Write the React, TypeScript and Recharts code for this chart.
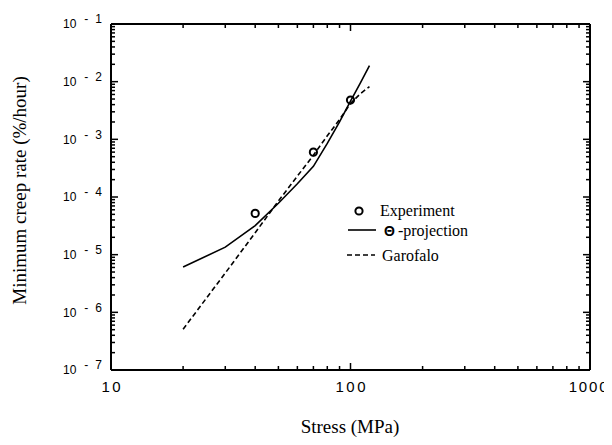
import React from 'react';
import { ComposedChart, Line, Scatter, XAxis, YAxis, Legend, Label } from 'recharts';

// Experiment points
const stressExperiment = [40, 70, 100];
const rateExperiment = [5.2e-5, 6.0e-4, 4.8e-3];

// Theta-projection curve (solid)
const stressTheta = [20, 30, 40, 50, 60, 70, 80, 90, 100, 110, 120];
const rateTheta = [6.1e-6, 1.35e-5, 3.2e-5, 7.8e-5, 1.7e-4, 3.4e-4, 8.5e-4, 2.0e-3, 4.6e-3, 9.5e-3, 1.9e-2];

// Garofalo curve (dashed)
const stressGarofalo = [20, 30, 40, 50, 60, 70, 80, 90, 100, 110, 120];
const rateGarofalo = [5.1e-7, 4.8e-6, 2.4e-5, 8.5e-5, 2.3e-4, 5.3e-4, 1.15e-3, 2.2e-3, 4.2e-3, 6.2e-3, 8.2e-3];

// Axis ticks
const xTicks = [10, 20, 30, 40, 50, 60, 70, 80, 90, 100, 200, 300, 400, 500, 600, 700, 800, 900, 1000];
const yTicks = [
  1e-7, 2e-7, 3e-7, 4e-7, 5e-7, 6e-7, 7e-7, 8e-7, 9e-7,
  1e-6, 2e-6, 3e-6, 4e-6, 5e-6, 6e-6, 7e-6, 8e-6, 9e-6,
  1e-5, 2e-5, 3e-5, 4e-5, 5e-5, 6e-5, 7e-5, 8e-5, 9e-5,
  1e-4, 2e-4, 3e-4, 4e-4, 5e-4, 6e-4, 7e-4, 8e-4, 9e-4,
  1e-3, 2e-3, 3e-3, 4e-3, 5e-3, 6e-3, 7e-3, 8e-3, 9e-3,
  1e-2, 2e-2, 3e-2, 4e-2, 5e-2, 6e-2, 7e-2, 8e-2, 9e-2,
  1e-1,
];

const legendLabels = ['Experiment', '-projection', 'Garofalo'];

const experimentData = stressExperiment.map((x, i) => ({ x, y: rateExperiment[i] }));
const thetaData = stressTheta.map((x, i) => ({ x, y: rateTheta[i] }));
const garofaloData = stressGarofalo.map((x, i) => ({ x, y: rateGarofalo[i] }));

const SANS = '"Liberation Sans", Arial, Helvetica, sans-serif';
const SERIF = '"Liberation Serif", "Times New Roman", Times, serif';

const MINOR = 4;
const MAJOR = 7;

const isMajor = (v: number) => {
  const lg = Math.log10(v);
  return Math.abs(lg - Math.round(lg)) < 1e-6;
};

const LeftTick = (props: any) => {
  const { x, y, payload } = props;
  const v = payload.value;
  const major = isMajor(v);
  const exp = -Math.round(Math.log10(v));
  return (
    <g>
      <rect x={x} y={y - 0.75} width={major ? MAJOR : MINOR} height={1.5} fill="#000" stroke="none" />
      {major && (
        <text x={x - 48} y={y + 4.3} fontFamily={SANS} fontSize={12} fill="#000" stroke="none">
          10
          <tspan dx={8} dy={-5}>-</tspan>
          <tspan dx={7}>{String(exp)}</tspan>
        </text>
      )}
    </g>
  );
};

const RightTick = (props: any) => {
  const { x, y, payload } = props;
  const major = isMajor(payload.value);
  const len = major ? MAJOR : MINOR;
  return <rect x={x - len} y={y - 0.75} width={len} height={1.5} fill="#000" stroke="none" />;
};

const BottomTick = (props: any) => {
  const { x, y, payload } = props;
  const major = isMajor(payload.value);
  const len = major ? MAJOR : MINOR;
  const last = payload.value >= 1000;
  return (
    <g>
      <rect x={x - 0.75} y={y - len} width={1.5} height={len} fill="#000" stroke="none" />
      {major && (
        <text
          x={last ? x - 1 : x + 1.25}
          y={y + 22}
          textAnchor="middle"
          fontFamily={SANS}
          fontSize={15}
          letterSpacing={last ? 1.8 : 2.5}
          fill="#000"
          stroke="none"
        >
          {String(payload.value)}
        </text>
      )}
    </g>
  );
};

const TopTick = (props: any) => {
  const { x, y, payload } = props;
  const major = isMajor(payload.value);
  const len = major ? MAJOR : MINOR;
  return <rect x={x - 0.75} y={y} width={1.5} height={len} fill="#000" stroke="none" />;
};

const ExpDot = (props: any) => {
  const { cx, cy } = props;
  return <circle cx={cx} cy={cy} r={3.6} fill="none" stroke="#000" strokeWidth={2} />;
};

const renderLegend = () => (
  <svg width={170} height={80} style={{ display: 'block', overflow: 'visible' }}>
    <circle cx={21} cy={13} r={3.6} fill="none" stroke="#000" strokeWidth={2} />
    <text x={42} y={18} fontFamily={SERIF} fontSize={16} fill="#000">{legendLabels[0]}</text>
    <line x1={10} y1={32} x2={38} y2={32} stroke="#000" strokeWidth={1.6} />
    <text x={46} y={38} fontFamily={SERIF} fontSize={16} fill="#000">
      <tspan fontFamily={SANS} fontSize={14} fontWeight="bold">Θ</tspan>
      <tspan dx={3}>{legendLabels[1]}</tspan>
    </text>
    <line x1={9} y1={57} x2={37} y2={57} stroke="#000" strokeWidth={1.6} strokeDasharray="5 3" />
    <text x={44} y={63} fontFamily={SERIF} fontSize={16} fill="#000">{legendLabels[2]}</text>
  </svg>
);

const axisLineStyle = { stroke: '#000', strokeWidth: 2 };

export default function App() {
  return (
    <ComposedChart width={604} height={437} margin={{ top: 15, right: 21, bottom: 25, left: 43 }}>
      <XAxis
        dataKey="x"
        type="number"
        scale="log"
        domain={[10, 1000]}
        ticks={xTicks}
        interval={0}
        allowDataOverflow
        tickSize={0}
        tickMargin={0}
        tickLine={false}
        tick={<BottomTick />}
        axisLine={axisLineStyle}
        height={50}
      >
        <Label
          content={() => (
            <text x={342} y={425} textAnchor="middle" fontFamily={SERIF} fontSize={19} fill="#000">
              Stress (MPa)
            </text>
          )}
        />
      </XAxis>
      <XAxis
        xAxisId="top"
        orientation="top"
        dataKey="x"
        type="number"
        scale="log"
        domain={[10, 1000]}
        ticks={xTicks}
        interval={0}
        allowDataOverflow
        tickSize={0}
        tickMargin={0}
        tickLine={false}
        tick={<TopTick />}
        axisLine={axisLineStyle}
        height={1}
      />
      <YAxis
        type="number"
        scale="log"
        domain={[1e-7, 1e-1]}
        ticks={yTicks}
        interval={0}
        allowDataOverflow
        tickSize={0}
        tickMargin={0}
        tickLine={false}
        tick={<LeftTick />}
        axisLine={axisLineStyle}
        width={60}
      >
        <Label
          content={() => (
            <text
              x={18}
              y={182.5}
              transform="rotate(-90 18 182.5)"
              textAnchor="middle"
              fontFamily={SERIF}
              fontSize={19}
              fill="#000"
            >
              Minimum creep rate (%/hour)
            </text>
          )}
        />
      </YAxis>
      <YAxis
        yAxisId="right"
        orientation="right"
        type="number"
        scale="log"
        domain={[1e-7, 1e-1]}
        ticks={yTicks}
        interval={0}
        allowDataOverflow
        tickSize={0}
        tickMargin={0}
        tickLine={false}
        tick={<RightTick />}
        axisLine={axisLineStyle}
        width={1}
      />
      <Legend
        verticalAlign="middle"
        align="center"
        content={renderLegend}
        wrapperStyle={{ position: 'absolute', left: 330, top: 190, width: 170, height: 80 }}
      />
      <Line
        data={thetaData}
        dataKey="y"
        type="linear"
        stroke="#000"
        strokeWidth={1.6}
        dot={false}
        activeDot={false}
        isAnimationActive={false}
        name="Θ-projection"
      />
      <Line
        data={garofaloData}
        dataKey="y"
        type="linear"
        stroke="#000"
        strokeWidth={1.6}
        strokeDasharray="5 3"
        dot={false}
        activeDot={false}
        isAnimationActive={false}
        name="Garofalo"
      />
      <Scatter
        data={experimentData}
        dataKey="y"
        shape={<ExpDot />}
        isAnimationActive={false}
        name="Experiment"
      />
    </ComposedChart>
  );
}
